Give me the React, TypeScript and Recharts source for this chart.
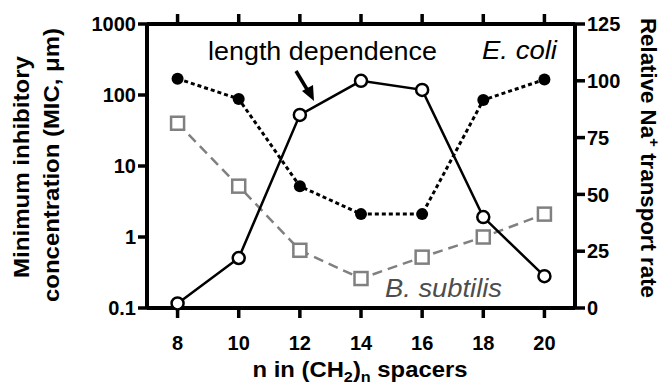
import React from "react";
import { ComposedChart, Line, XAxis, YAxis } from "recharts";

const spacerLengths = [8, 10, 12, 14, 16, 18, 20];
const ecoliMic = [170, 88, 5.2, 2.1, 2.1, 85, 165];
const subtilisMic = [40, 5.2, 0.65, 0.26, 0.52, 1.0, 2.1];
const naTransport = [2, 22, 85, 100, 96, 40, 14];

const xTicks = [8, 10, 12, 14, 16, 18, 20];
const micTicks = [0.1, 1, 10, 100, 1000];
const rateTicks = [0, 25, 50, 75, 100, 125];

const data = spacerLengths.map((n, i) => ({
  n,
  ecoli: ecoliMic[i],
  subtilis: subtilisMic[i],
  na: naTransport[i],
}));

const font = "'Liberation Sans', Arial, sans-serif";
const tickStyle = { fill: "#000", fontSize: 20, fontWeight: 700, fontFamily: font };
const axisLine = { stroke: "#000", strokeWidth: 4 };
const tickLine = { stroke: "#000", strokeWidth: 3.5 };

const Square = (props: any) => {
  const { cx, cy, index } = props;
  return (
    <rect
      key={`sq-${index}`}
      x={cx - 6.5}
      y={cy - 6.5}
      width={13}
      height={13}
      fill="#fff"
      stroke="#808080"
      strokeWidth={2.5}
    />
  );
};

export default function App() {
  return (
    <div style={{ position: "absolute", left: 0, top: 0, width: 663, height: 392, background: "#fff" }}>
      <ComposedChart
        width={663}
        height={392}
        data={data}
        margin={{ top: 14, right: 0, bottom: 0, left: 0 }}
      >
        <XAxis
          xAxisId="b"
          dataKey="n"
          type="number"
          domain={[7, 21]}
          ticks={xTicks}
          height={84}
          axisLine={axisLine}
          tickLine={tickLine}
          tickSize={10}
          tickMargin={18}
          tick={tickStyle}
        />
        <XAxis
          xAxisId="t"
          orientation="top"
          dataKey="n"
          type="number"
          domain={[7, 21]}
          ticks={xTicks}
          height={10}
          axisLine={axisLine}
          tickLine={tickLine}
          tickSize={10}
          tickFormatter={() => ""}
        />
        <YAxis
          yAxisId="mic"
          scale="log"
          type="number"
          domain={[0.1, 1000]}
          allowDataOverflow
          ticks={micTicks}
          width={147}
          axisLine={axisLine}
          tickLine={tickLine}
          tickSize={9}
          tickMargin={2}
          tick={tickStyle}
          tickFormatter={(v: number) => String(v)}
        />
        <YAxis
          yAxisId="rate"
          orientation="right"
          type="number"
          domain={[0, 125]}
          ticks={rateTicks}
          width={88}
          axisLine={axisLine}
          tickLine={tickLine}
          tickSize={10}
          tickMargin={2}
          tick={tickStyle}
        />
        <Line
          xAxisId="b"
          yAxisId="mic"
          dataKey="subtilis"
          stroke="#808080"
          strokeWidth={2.5}
          strokeDasharray="10 6"
          dot={Square}
          isAnimationActive={false}
        />
        <Line
          xAxisId="b"
          yAxisId="mic"
          dataKey="ecoli"
          stroke="#000"
          strokeWidth={3}
          strokeDasharray="4 3"
          dot={{ r: 6, fill: "#000", stroke: "#000", strokeWidth: 0, strokeDasharray: "" }}
          isAnimationActive={false}
        />
        <Line
          xAxisId="b"
          yAxisId="rate"
          dataKey="na"
          stroke="#000"
          strokeWidth={2.5}
          dot={{ r: 6, fill: "#fff", stroke: "#000", strokeWidth: 2.5 }}
          isAnimationActive={false}
        />
      </ComposedChart>
      <svg
        width={663}
        height={392}
        style={{ position: "absolute", left: 0, top: 0, pointerEvents: "none" }}
        fontFamily={font}
      >
        <text x={208} y={60} fontSize={25} textLength={229} lengthAdjust="spacingAndGlyphs">
          length dependence
        </text>
        <line x1={296} y1={71} x2={308} y2={91} stroke="#000" strokeWidth={3.5} />
        <polygon points="314,101 302,91 313,85" fill="#000" />
        <text x={482} y={59} fontSize={25} fontStyle="italic" textLength={75} lengthAdjust="spacingAndGlyphs">
          E. coli
        </text>
        <text x={385} y={297} fontSize={25} fontStyle="italic" fill="#4d4d4d" textLength={117} lengthAdjust="spacingAndGlyphs">
          B. subtilis
        </text>
        <g transform="rotate(-90 29 167)">
          <text x={29} y={167} fontSize={22} fontWeight={700} textAnchor="middle" textLength={222} lengthAdjust="spacingAndGlyphs">
            Minimum inhibitory
          </text>
        </g>
        <g transform="rotate(-90 59 165)">
          <text x={59} y={165} fontSize={22} fontWeight={700} textAnchor="middle" textLength={274} lengthAdjust="spacingAndGlyphs">
            concentration (MIC, μm)
          </text>
        </g>
        <g transform="rotate(90 641 158)">
          <text x={641} y={158} fontSize={22} fontWeight={700} textAnchor="middle" textLength={280} lengthAdjust="spacingAndGlyphs">
            Relative Na<tspan dy={-8} fontSize={15}>+</tspan>
            <tspan dy={8}> transport rate</tspan>
          </text>
        </g>
        <text x={360} y={377} fontSize={22} fontWeight={700} textAnchor="middle" textLength={215} lengthAdjust="spacingAndGlyphs">
          n in (CH<tspan dy={5} fontSize={15}>2</tspan>
          <tspan dy={-5}>)</tspan>
          <tspan dy={5} fontSize={15}>n</tspan>
          <tspan dy={-5}> spacers</tspan>
        </text>
      </svg>
    </div>
  );
}
